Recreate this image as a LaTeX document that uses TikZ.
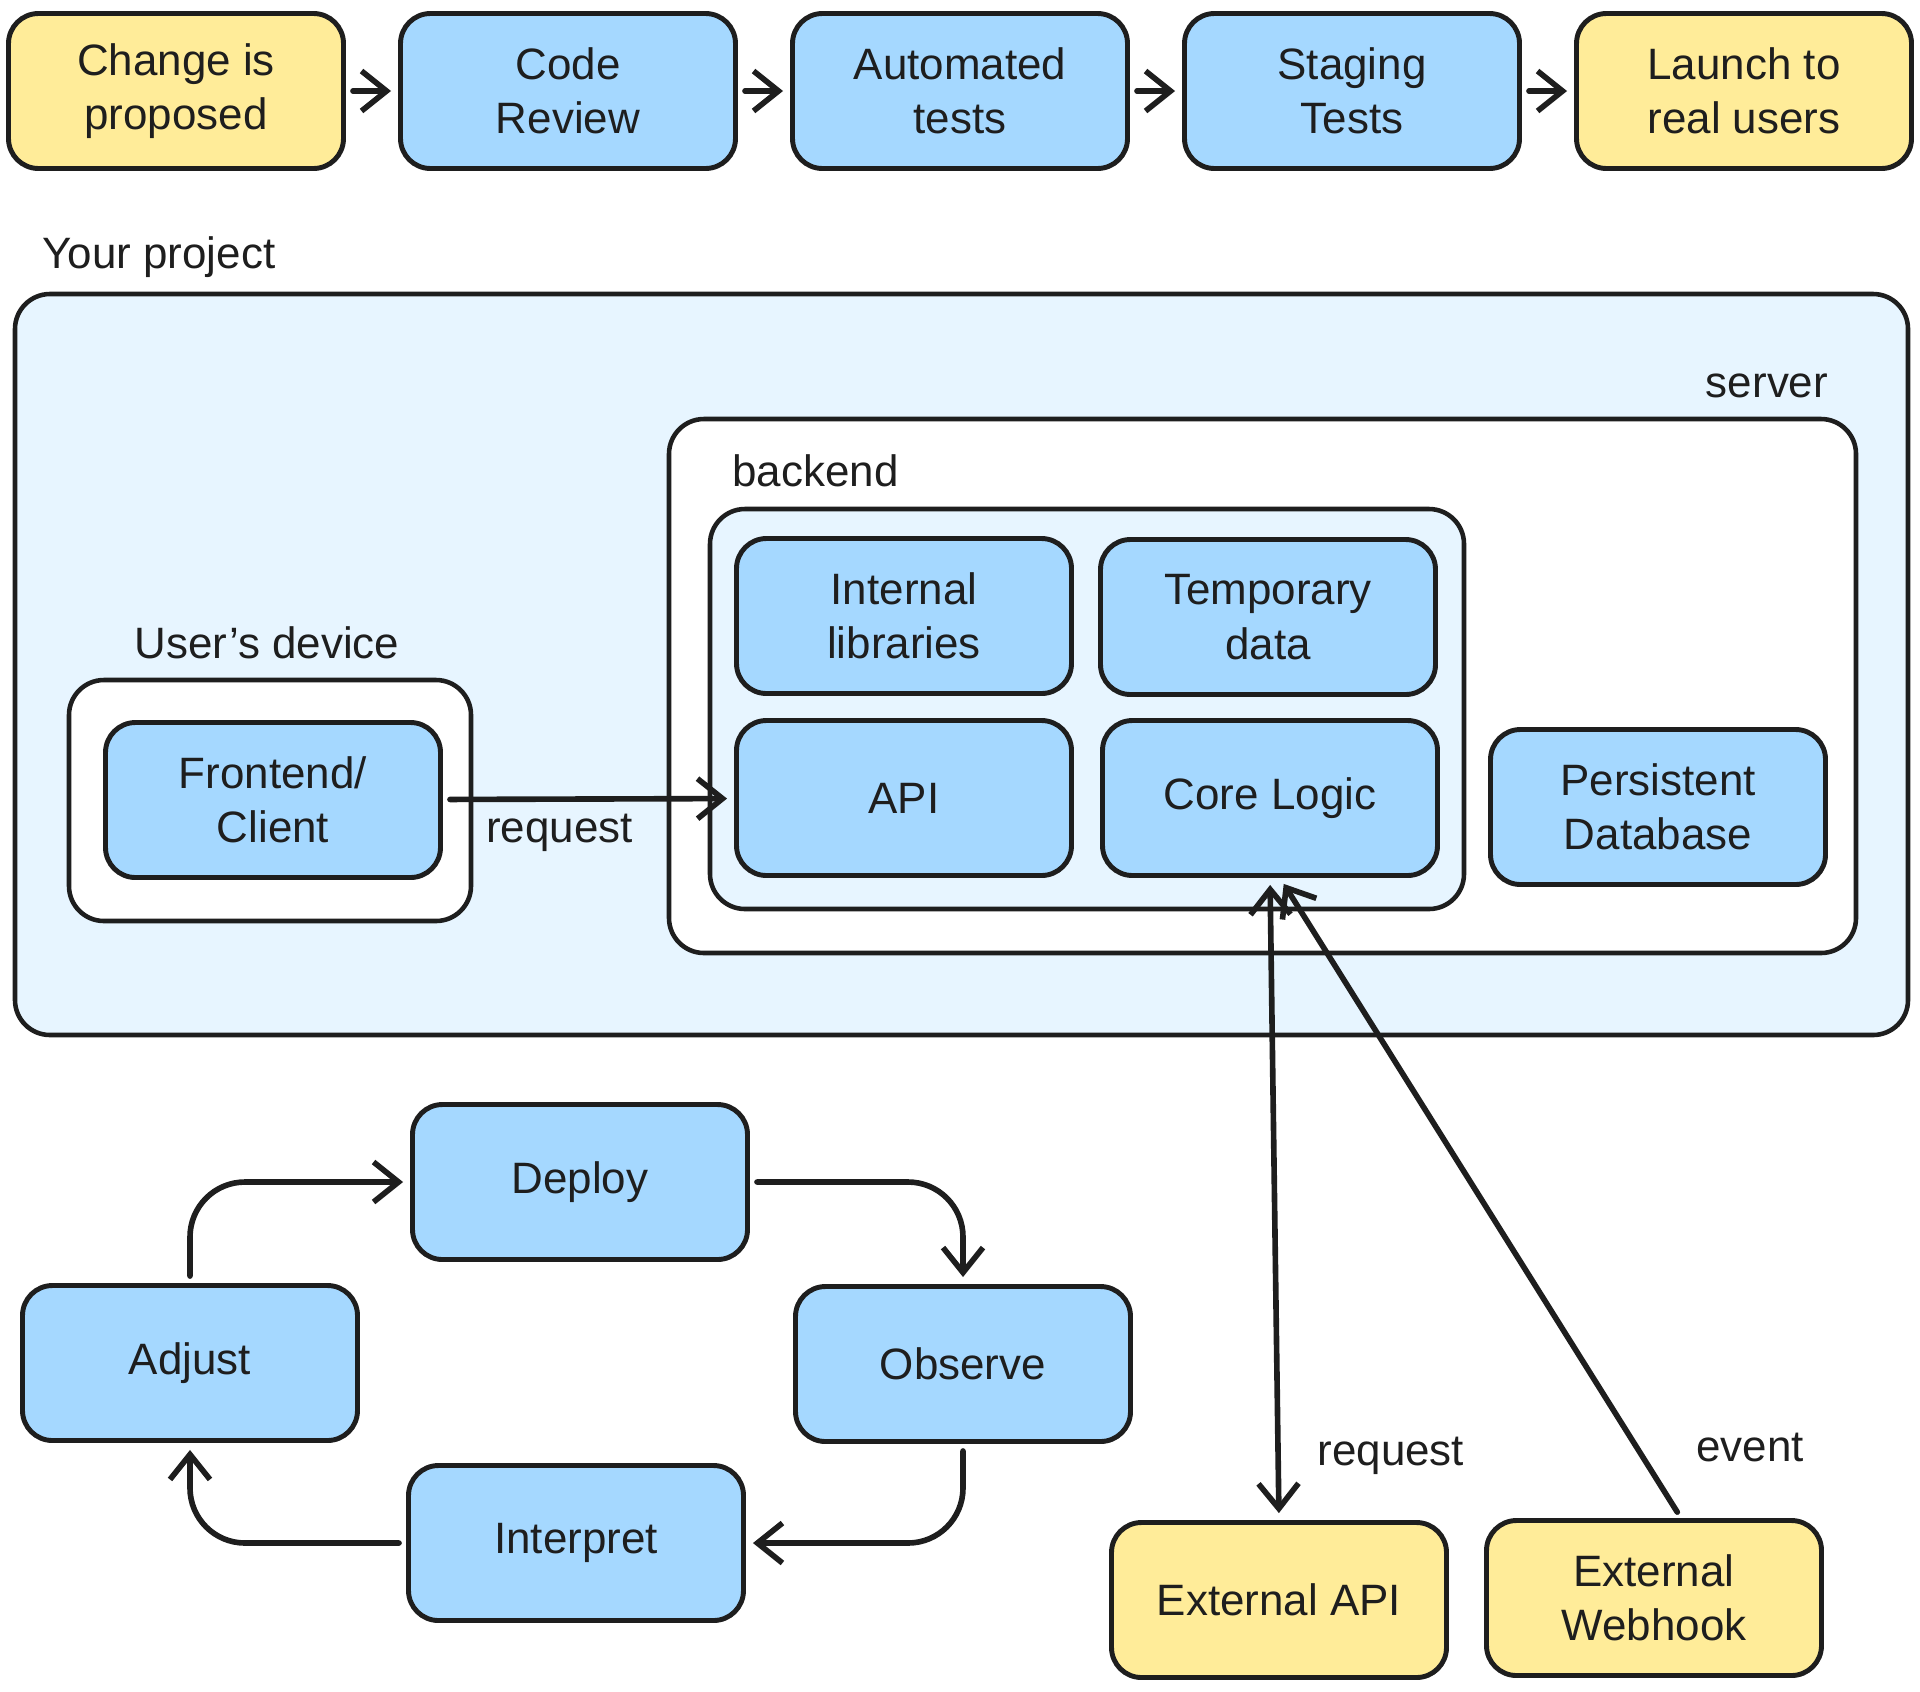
\documentclass[tikz,border=0pt]{standalone}
\usepackage{fontspec}
\setmainfont{Liberation Sans}
\usetikzlibrary{positioning,arrows.meta}

\definecolor{stroke}{HTML}{1E1E1E}
\definecolor{boxblue}{HTML}{A5D8FF}
\definecolor{boxyellow}{HTML}{FFEC99}
\definecolor{areablue}{HTML}{E7F5FF}

\tikzset{
  stage/.style={rectangle, rounded corners=0.3cm, draw=stroke, line width=1.4pt,
    fill=boxblue, minimum width=3.35cm, minimum height=1.55cm, align=center,
    font=\fontsize{12.5}{15.5}\selectfont, text=stroke},
  outside/.style={stage, fill=boxyellow},
  area/.style={rounded corners=0.35cm, draw=stroke, line width=1.3pt},
  tag/.style={font=\fontsize{12.5}{15.5}\selectfont, text=stroke},
  flow/.style={->, draw=stroke, line width=1.6pt, line cap=round,
    shorten >=0.07cm, shorten <=0.07cm}
}

\begin{document}
\begin{tikzpicture}[
                            node distance=3.92cm,
                            >={Straight Barb[length=2.5mm,width=4mm]}
                        ]
                        \useasboundingbox (0,0) rectangle (19.2,-16.91);

                        % Pipeline
                        \node [outside] (change) at (1.76,-0.91) {Change is\\proposed};
                        \node [stage,right of=change] (review) {Code\\Review};
                        \node [stage,right of=review] (autotest) {Automated\\tests};
                        \node [stage,right of=autotest] (staging) {Staging\\Tests};
                        \node [outside,right of=staging] (launch) {Launch to\\real users};

                        \draw [flow] (change) -- (review);
                        \draw [flow] (review) -- (autotest);
                        \draw [flow] (autotest) -- (staging);
                        \draw [flow] (staging) -- (launch);

                        % Areas
                        \node [tag,anchor=west] (projlbl) at (0.30,-2.57) {Your project};
                        \draw [area,fill=areablue] (0.15,-2.94) rectangle (19.08,-10.35);
                        \node [tag] (serverlbl) at (17.67,-3.86) {server};
                        \draw [area,fill=white] (6.69,-4.19) rectangle (18.56,-9.53);
                        \node [tag,anchor=west] (backlbl) at (7.20,-4.71) {backend};
                        \draw [area,fill=areablue] (7.10,-5.09) rectangle (14.64,-9.09);
                        \node [tag] (devicelbl) at (2.67,-6.43) {User's device};
                        \draw [area,fill=white] (0.69,-6.80) rectangle (4.71,-9.21);

                        % Blocks
                        \node [stage] (intlib) at (9.04,-6.16) {Internal\\libraries};
                        \node [stage] (tempdata) at (12.68,-6.17) {Temporary\\data};
                        \node [stage] (api) at (9.04,-7.98) {API};
                        \node [stage] (core) at (12.70,-7.98) {Core Logic};
                        \node [stage] (persist) at (16.58,-8.07) {Persistent\\Database};
                        \node [stage] (front) at (2.73,-8.00) {Frontend/\\Client};
                        \node [outside] (extapi) at (12.79,-16.00) {External API};
                        \node [outside] (webhook) at (16.54,-15.98) {External\\Webhook};

                        % Connections
                        \draw [flow] (front) -- node[tag,pos=0.4,below]{request} (api);
                        \draw [flow,<->] (core.south) -- node[tag,pos=0.9,right=0.25cm]{request} (extapi.north);
                        \draw [flow] ([xshift=0.27cm]webhook.north) -- node[tag,pos=0.11,right=0.45cm]{event} ([xshift=0.1cm]core.south);

                        % Loop
                        \node [stage] (deploy) at (5.80,-11.82) {Deploy};
                        \node [stage] (adjust) at (1.90,-13.63) {Adjust};
                        \node [stage] (observe) at (9.63,-13.64) {Observe};
                        \node [stage] (interpret) at (5.76,-15.43) {Interpret};

                        \draw [flow,rounded corners=0.55cm] (adjust.north) |- (deploy.west);
                        \draw [flow,rounded corners=0.55cm] (deploy.east) -| (observe.north);
                        \draw [flow,rounded corners=0.55cm] (observe.south) |- (interpret.east);
                        \draw [flow,rounded corners=0.55cm] (interpret.west) -| (adjust.south);
                    \end{tikzpicture}
\end{document}
